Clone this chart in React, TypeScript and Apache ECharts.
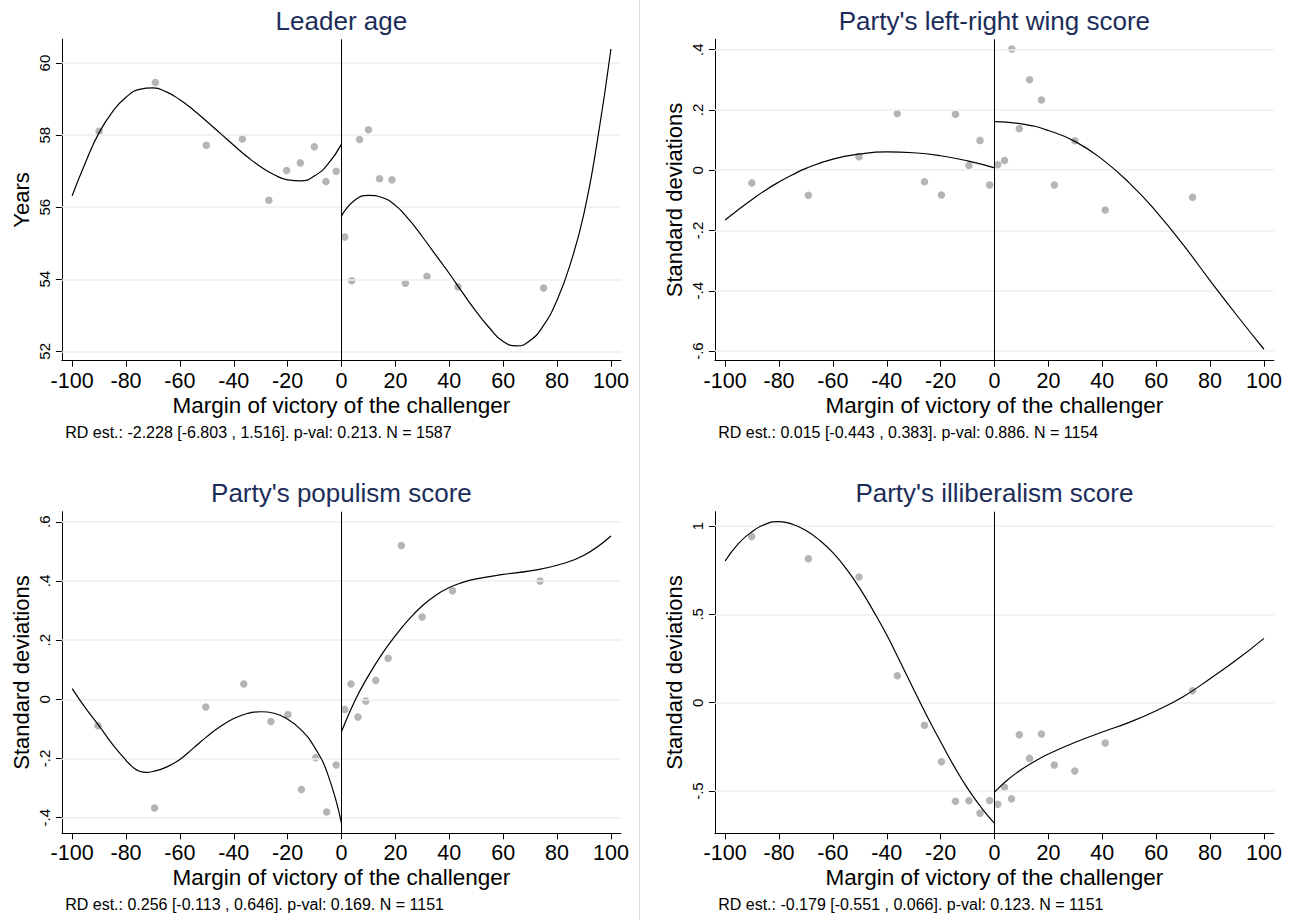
import React, { useEffect, useRef } from "react";
import * as echarts from "echarts";

// ---------- shared axis ticks ----------
const xTicks = [-100, -80, -60, -40, -20, 0, 20, 40, 60, 80, 100];
const xName = "Margin of victory of the challenger";

// ---------- Panel 1: Leader age ----------
const ageDotX = [-90.0, -69.1, -50.2, -36.8, -27.0, -20.4, -15.3, -10.1, -5.8, -2.0, 1.2, 3.8, 6.7, 10.0, 14.1, 18.7, 23.7, 31.7, 43.2, 75.0];
const ageDotY = [58.11, 59.46, 57.72, 57.89, 56.19, 57.02, 57.23, 57.68, 56.71, 57.0, 55.17, 53.96, 57.88, 58.15, 56.79, 56.76, 53.89, 54.08, 53.79, 53.76];
const ageFitLX = [-100, -95, -90, -85, -80, -75, -70, -65, -60, -55, -50, -45, -40, -35, -30, -25, -20, -15, -10, -5, 0];
const ageFitLY = [56.32, 57.25, 58.07, 58.65, 59.05, 59.27, 59.31, 59.2, 58.98, 58.7, 58.38, 58.05, 57.72, 57.4, 57.12, 56.9, 56.76, 56.73, 56.87, 57.2, 57.75];
const ageFitRX = [0, 5, 10, 15, 20, 25, 30, 35, 40, 45, 50, 55, 60, 65, 70, 75, 80, 85, 90, 95, 100];
const ageFitRY = [55.76, 56.2, 56.33, 56.27, 56.05, 55.66, 55.18, 54.67, 54.16, 53.62, 53.1, 52.64, 52.27, 52.15, 52.3, 52.72, 53.42, 54.44, 55.83, 57.86, 60.39];
const ageTicks = [52, 54, 56, 58, 60];
const ageTickLabels = ["52", "54", "56", "58", "60"];

// ---------- Panel 2: left-right ----------
const lrDotX = [-90.1, -69.1, -50.3, -36.1, -26.0, -19.7, -14.5, -9.5, -5.4, -1.8, 1.2, 3.7, 6.4, 9.2, 13.0, 17.4, 22.2, 29.8, 41.1, 73.5];
const lrDotY = [-0.042, -0.083, 0.045, 0.188, -0.038, -0.082, 0.186, 0.016, 0.099, -0.049, 0.018, 0.032, 0.402, 0.138, 0.3, 0.233, -0.049, 0.098, -0.132, -0.09];
const lrFitLX = [-100, -95, -90, -85, -80, -75, -70, -60, -50, -40, -30, -20, -10, 0];
const lrFitLY = [-0.165, -0.13, -0.097, -0.066, -0.039, -0.015, 0.006, 0.037, 0.054, 0.061, 0.058, 0.048, 0.031, 0.008];
const lrFitRX = [0, 10, 20, 30, 40, 50, 60, 70, 80, 90, 100];
const lrFitRY = [0.161, 0.154, 0.132, 0.095, 0.036, -0.042, -0.137, -0.247, -0.366, -0.482, -0.594];
const lrTicks = [-0.6, -0.4, -0.2, 0, 0.2, 0.4];
const lrTickLabels = ["-.6", "-.4", "-.2", "0", ".2", ".4"];

// ---------- Panel 3: populism ----------
const popDotX = [-90.4, -69.4, -50.4, -36.3, -26.2, -19.9, -14.9, -9.6, -5.5, -2.0, 1.2, 3.5, 6.1, 9.0, 12.7, 17.3, 22.2, 29.9, 41.2, 73.7];
const popDotY = [-0.089, -0.367, -0.026, 0.052, -0.075, -0.051, -0.305, -0.197, -0.381, -0.222, -0.034, 0.052, -0.06, -0.006, 0.064, 0.139, 0.52, 0.278, 0.367, 0.4];
const popFitLX = [-100, -95, -90, -85, -80, -77.5, -75, -72.5, -70, -65, -60, -55, -50, -45, -40, -35, -30, -25, -20, -15, -10, -5, 0];
const popFitLY = [0.036, -0.03, -0.09, -0.152, -0.206, -0.229, -0.243, -0.247, -0.244, -0.229, -0.203, -0.165, -0.126, -0.092, -0.065, -0.048, -0.042, -0.047, -0.067, -0.103, -0.162, -0.256, -0.419];
const popFitRX = [0, 5, 10, 15, 20, 25, 30, 35, 40, 45, 50, 60, 70, 80, 90, 100];
const popFitRY = [-0.109, -0.004, 0.08, 0.153, 0.215, 0.27, 0.316, 0.352, 0.378, 0.395, 0.407, 0.422, 0.434, 0.453, 0.487, 0.552];
const popTicks = [-0.4, -0.2, 0, 0.2, 0.4, 0.6];
const popTickLabels = ["-.4", "-.2", "0", ".2", ".4", ".6"];

// ---------- Panel 4: illiberalism ----------
const illDotX = [-90.1, -69.1, -50.3, -36.1, -26.0, -19.7, -14.5, -9.5, -5.4, -1.8, 1.2, 3.7, 6.3, 9.2, 13.0, 17.4, 22.2, 29.8, 41.1, 73.5];
const illDotY = [0.94, 0.815, 0.711, 0.153, -0.128, -0.334, -0.558, -0.555, -0.626, -0.553, -0.575, -0.479, -0.543, -0.181, -0.315, -0.177, -0.353, -0.387, -0.228, 0.068];
const illFitLX = [-100, -95, -90, -85, -80, -75, -70, -65, -60, -55, -50, -45, -40, -35, -30, -25, -20, -15, -10, -5, 0];
const illFitLY = [0.802, 0.902, 0.968, 1.011, 1.025, 1.01, 0.974, 0.92, 0.849, 0.757, 0.647, 0.52, 0.383, 0.23, 0.075, -0.078, -0.221, -0.36, -0.485, -0.592, -0.683];
const illFitRX = [0, 5, 10, 15, 20, 30, 40, 50, 60, 70, 80, 90, 100];
const illFitRY = [-0.506, -0.435, -0.378, -0.331, -0.29, -0.224, -0.166, -0.111, -0.045, 0.034, 0.136, 0.244, 0.364];
const illTicks = [-0.5, 0, 0.5, 1];
const illTickLabels = ["-.5", "0", ".5", "1"];

const titles = ["Leader age", "Party's left-right wing score", "Party's populism score", "Party's illiberalism score"];
const yNames = ["Years", "Standard deviations", "Standard deviations", "Standard deviations"];
const notes = [
  "RD est.: -2.228 [-6.803 , 1.516]. p-val: 0.213. N = 1587",
  "RD est.: 0.015 [-0.443 , 0.383]. p-val: 0.886. N = 1154",
  "RD est.: 0.256 [-0.113 , 0.646]. p-val: 0.169. N = 1151",
  "RD est.: -0.179 [-0.551 , 0.066]. p-val: 0.123. N = 1151",
];

const FONT = "'Liberation Sans', Arial, Helvetica, sans-serif";
const TITLE_COLOR = "#1c2d5a";
const GRID_COLOR = "#e8f0f2";
const DOT_COLOR = "#a2a2a2";

const zip = (xs: number[], ys: number[]) => xs.map((x, i) => [x, ys[i]]);

const panels = [
  { dx: ageDotX, dy: ageDotY, lx: ageFitLX, ly: ageFitLY, rx: ageFitRX, ry: ageFitRY, ticks: ageTicks, labels: ageTickLabels, yMin: 51.74, yMax: 60.66, left: 61.9, top: 39.3, height: 321.4 },
  { dx: lrDotX, dy: lrDotY, lx: lrFitLX, ly: lrFitLY, rx: lrFitRX, ry: lrFitRY, ticks: lrTicks, labels: lrTickLabels, yMin: -0.632, yMax: 0.4345, left: 714.9, top: 39.3, height: 321.4 },
  { dx: popDotX, dy: popDotY, lx: popFitLX, ly: popFitLY, rx: popFitRX, ry: popFitRY, ticks: popTicks, labels: popTickLabels, yMin: -0.4527, yMax: 0.634, left: 61.9, top: 511.7, height: 321.6 },
  { dx: illDotX, dy: illDotY, lx: illFitLX, ly: illFitLY, rx: illFitRX, ry: illFitRY, ticks: illTicks, labels: illTickLabels, yMin: -0.739, yMax: 1.081, left: 714.9, top: 511.7, height: 321.6 },
];
const PLOT_W = 559;

function buildOption() {
  const grid: any[] = [];
  const xAxis: any[] = [];
  const yAxis: any[] = [];
  const series: any[] = [];
  const title: any[] = [];
  const graphic: any[] = [];

  panels.forEach((p, i) => {
    grid.push({ left: p.left, top: p.top, width: PLOT_W, height: p.height, containLabel: false, outerBoundsMode: "none" });
    xAxis.push({
      type: "value",
      gridIndex: i,
      min: -103.8,
      max: 103.7,
      splitLine: { show: false },
      axisLine: { show: true, onZero: false, lineStyle: { color: "#000", width: 1 } },
      axisTick: { show: true, length: 6, inside: false, customValues: xTicks, lineStyle: { color: "#000", width: 1 } },
      axisLabel: { customValues: xTicks, color: "#000", fontSize: 21.5, fontFamily: FONT, margin: 9 },
      name: xName,
      nameLocation: "middle",
      nameGap: 33,
      nameTextStyle: { color: "#000", fontSize: 22.5, fontFamily: FONT },
    });
    const labels = p.labels;
    const ticks = p.ticks;
    yAxis.push({
      type: "value",
      gridIndex: i,
      min: p.yMin,
      max: p.yMax,
      splitLine: { show: false },
      axisLine: { show: true, onZero: false, lineStyle: { color: "#000", width: 1 } },
      axisTick: { show: true, length: 6, customValues: ticks, lineStyle: { color: "#000", width: 1 } },
      axisLabel: {
        customValues: ticks,
        rotate: 90,
        color: "#000",
        fontSize: 15,
        fontFamily: FONT,
        margin: 10,
        formatter: (v: number) => {
          const k = ticks.findIndex((t) => Math.abs(t - v) < 1e-9);
          return k >= 0 ? labels[k] : String(v);
        },
      },
      name: yNames[i],
      nameLocation: "middle",
      nameRotate: 90,
      nameGap: 29,
      nameTextStyle: { color: "#000", fontSize: 22, fontFamily: FONT },
    });

    // gridlines
    series.push({
      type: "line",
      xAxisIndex: i,
      yAxisIndex: i,
      data: [],
      silent: true,
      markLine: {
        silent: true,
        symbol: ["none", "none"],
        label: { show: false },
        lineStyle: { color: GRID_COLOR, width: 1.6, type: "solid" },
        emphasis: { disabled: true },
        data: ticks.map((v) => ({ yAxis: v })),
      },
    });
    // cutoff line
    series.push({
      type: "line",
      xAxisIndex: i,
      yAxisIndex: i,
      data: [],
      silent: true,
      z: 3,
      markLine: {
        silent: true,
        symbol: ["none", "none"],
        label: { show: false },
        lineStyle: { color: "#000", width: 1, type: "solid" },
        emphasis: { disabled: true },
        data: [{ xAxis: 0 }],
      },
    });
    // dots
    series.push({
      type: "scatter",
      xAxisIndex: i,
      yAxisIndex: i,
      data: zip(p.dx, p.dy),
      symbol: "circle",
      symbolSize: 7.5,
      itemStyle: { color: DOT_COLOR },
      silent: true,
      z: 4,
    });
    // fits
    [zip(p.lx, p.ly), zip(p.rx, p.ry)].forEach((d) => {
      series.push({
        type: "line",
        xAxisIndex: i,
        yAxisIndex: i,
        data: d,
        showSymbol: false,
        smooth: 0.5,
        silent: true,
        lineStyle: { color: "#000", width: 1.2 },
        z: 5,
      });
    });

    title.push({
      text: titles[i],
      left: p.left + PLOT_W / 2,
      top: p.top - 18.3 - 13,
      textAlign: "center",
      padding: 0,
      textStyle: { color: TITLE_COLOR, fontSize: 26, fontWeight: "normal", fontFamily: FONT },
    });
    graphic.push({
      type: "text",
      x: p.left + 3.3,
      y: p.top + p.height + 71.3,
      style: { text: notes[i], fill: "#000", fontSize: 16, fontFamily: FONT, align: "left", verticalAlign: "middle" },
    });
  });

  graphic.push({
    type: "line",
    shape: { x1: 639.5, y1: 0, x2: 639.5, y2: 920 },
    style: { stroke: "#dcdcdc", lineWidth: 1 },
  });

  return {
    animation: false,
    backgroundColor: "#fff",
    title,
    grid,
    xAxis,
    yAxis,
    series,
    graphic,
  };
}

export default function App() {
  const ref = useRef<HTMLDivElement>(null);
  useEffect(() => {
    document.body.style.margin = "0";
    const chart = echarts.init(ref.current!, null, { renderer: "svg" });
    chart.setOption(buildOption() as any);
    return () => chart.dispose();
  }, []);
  return <div ref={ref} style={{ width: 1292, height: 920 }} />;
}
